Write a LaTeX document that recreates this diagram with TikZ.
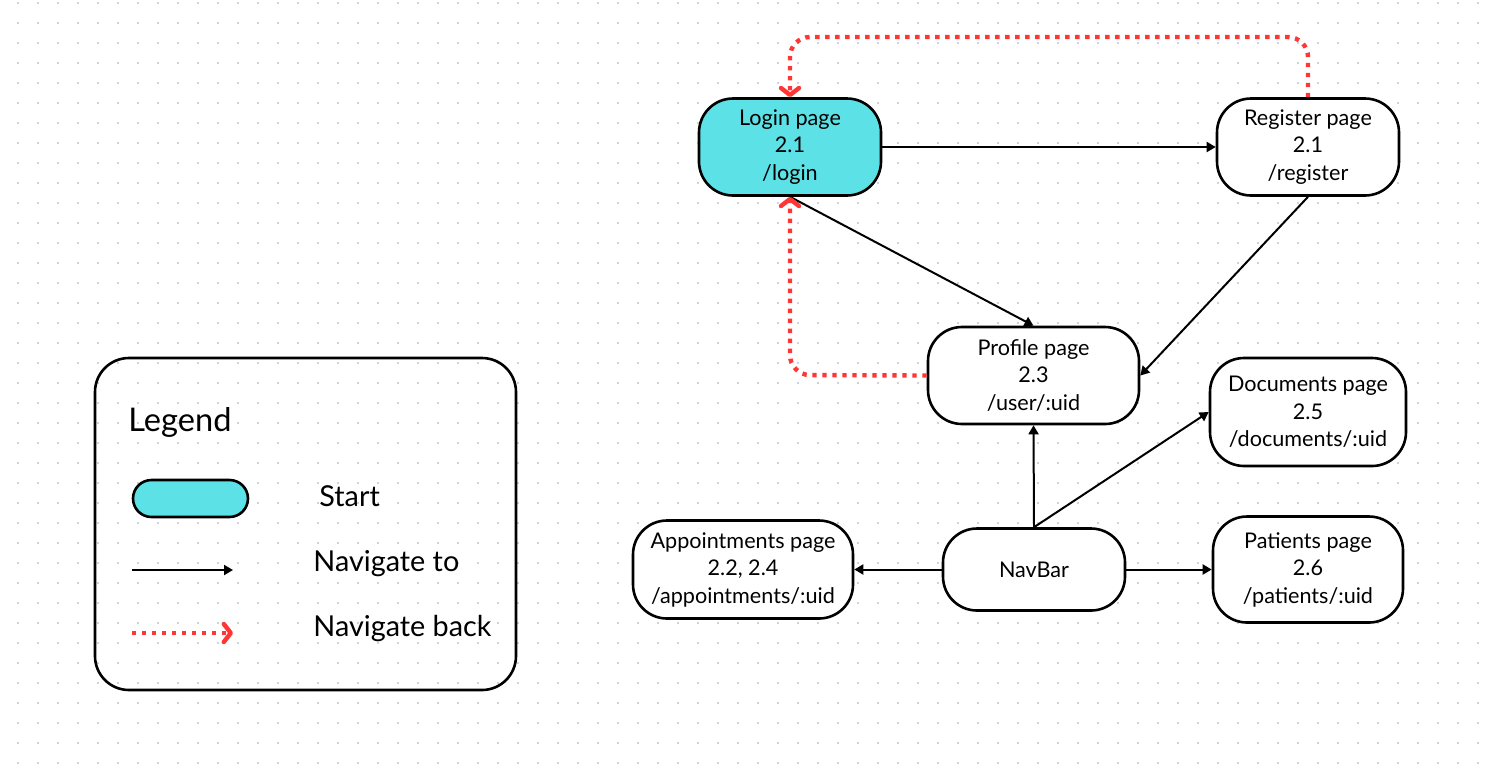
\documentclass[tikz,border=0pt]{standalone}
\usepackage{fontspec}
\setmainfont{Lato}
\usetikzlibrary{arrows.meta}
\definecolor{dotc}{RGB}{206,211,223}
\definecolor{startc}{HTML}{5CE1E6}
\definecolor{backc}{HTML}{FF3636}
\tikzset{
  page/.style={draw=black, line width=1.3pt, fill=white, rounded corners=17pt,
    align=center, inner sep=0pt, font=\fontsize{10.8pt}{13.75pt}\selectfont},
  startpage/.style={page, fill=startc},
  navto/.style={draw=black, line width=1pt, -{Triangle[length=4.5pt,width=5pt]}},
  navback/.style={draw=backc, line width=2.2pt, dash pattern=on 2.2pt off 2.8pt,
    rounded corners=10pt, -{Straight Barb[length=3.5pt,width=9pt,line cap=round,line join=round]}},
  legtext/.style={anchor=west, inner sep=0pt, font=\fontsize{14.4pt}{16pt}\selectfont}
}
\begin{document}
\begin{tikzpicture}[x=0.5pt,y=-0.5pt]
\useasboundingbox (0,0) rectangle (1488,767);
\fill[white] (0,0) rectangle (1488,767);
% dot grid
\foreach \i in {0,...,73}{
  \foreach \j in {0,...,38}{
    \fill[dotc] (17+20*\i,2+20*\j) rectangle ++(2,2);
  }
}
% legend
\draw[line width=1.3pt, rounded corners=17pt] (95,358) rectangle (516,690);
\node[legtext, font=\fontsize{16.3pt}{18pt}\selectfont] (legt) at (128,422) {Legend};
\node[draw=black, line width=1.3pt, fill=startc, rounded corners=9.25pt,
  minimum width=57.5pt, minimum height=18.5pt, inner sep=0pt] (legstart) at (190.5,498.5) {};
\node[legtext] (tstart) at (319,496) {Start};
\coordinate (la1) at (132,570);
\coordinate (la2) at (233,570);
\coordinate (lb1) at (132,633);
\coordinate (lb2) at (233,633);
\draw[navto] (la1) -- (la2);
\draw[navback, rounded corners=0pt] (lb1) -- (lb2);
\node[legtext] (tto) at (313,564) {Navigate to};
\node[legtext] (tback) at (313,629) {Navigate back};
% pages
\node[startpage, minimum width=91pt, minimum height=48.5pt] (login) at (790,147) {Login page\\2.1\\/login};
\node[page, minimum width=91pt, minimum height=48.5pt] (reg) at (1308,147) {Register page\\2.1\\/register};
\node[page, minimum width=105.5pt, minimum height=48.5pt] (prof) at (1033.5,375.5) {Profile page\\2.3\\/user/:uid};
\node[page, minimum width=98pt, minimum height=54pt] (docs) at (1308,412) {Documents page\\2.5\\/documents/:uid};
\node[page, minimum width=91pt, minimum height=41pt] (nav) at (1034,569.5) {NavBar};
\node[page, minimum width=95pt, minimum height=53pt] (pat) at (1308,569.5) {Patients page\\2.6\\/patients/:uid};
\node[page, minimum width=110pt, minimum height=49pt] (app) at (743,569.5) {Appointments page\\2.2, 2.4\\/appointments/:uid};
% connectors
\draw[navto] (login.east) -- (reg.west);
\draw[navto] (login.south) -- (prof.north);
\draw[navto] (reg.south) -- (prof.east);
\draw[navto] (nav.north) -- (prof.south);
\draw[navto] (nav.north) -- (docs.west);
\draw[navto] (nav.west) -- (app.east);
\draw[navto] (nav.east) -- (pat.west);
\coordinate (topR) at (1308,37);
\coordinate (topL) at (790,37);
\coordinate (botL) at (790,375);
\draw[navback] (reg.north) -- (topR) -- (topL) -- (login.north);
\draw[navback] (prof.west) -- (botL) -- (login.south);
\end{tikzpicture}
\end{document}
